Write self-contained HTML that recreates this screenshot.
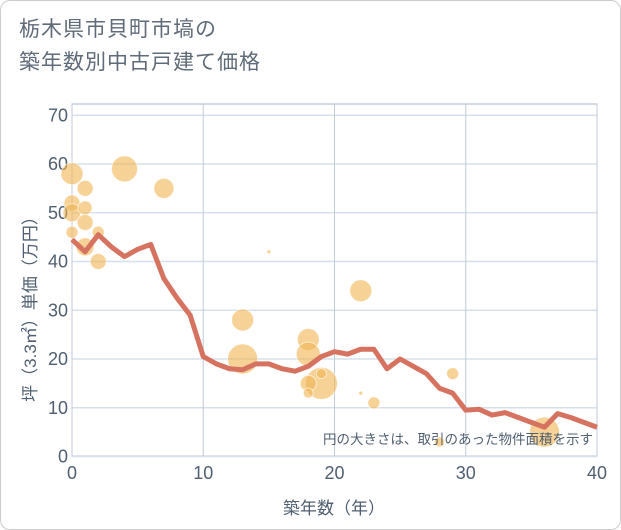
<!DOCTYPE html>
<html><head><meta charset="utf-8"><style>
body{margin:0;background:#fff}
#w{width:619px;height:528px;border:1px solid #ccc;border-radius:10px;position:relative;overflow:hidden;font-family:"Liberation Sans","Noto Sans CJK JP",sans-serif}
h1{position:absolute;left:18px;top:12px;margin:0;font-size:21px;font-weight:normal;color:#5f6b78;line-height:33px;letter-spacing:1px}
</style></head><body>
<div id="w">
<h1>栃木県市貝町市塙の<br>築年数別中古戸建て価格</h1>
<svg id="s" width="621" height="530" style="position:absolute;left:-1px;top:-1px"></svg>
</div>
<script>
const xTicks=[0,10,20,30,40];
const yTicks=[0,10,20,30,40,50,60,70];
const lineYears=[0,1,2,3,4,5,6,7,8,9,10,11,12,13,14,15,16,17,18,19,20,21,22,23,24,25,26,27,28,29,30,31,32,33,34,35,36,37,38,39,40];
const lineVals=[44.5,42,45.5,43,41,42.5,43.5,36.5,32.5,29,20.5,19,18,17.8,19,19,18,17.5,18.5,20.5,21.5,21,22,22,18,20,18.5,17,14,13,9.5,9.7,8.5,9,8,7,6,8.8,8,7,6];
const bubX=[0,1,4,7,0,0,1,1,0,1,2,2,15,13,13,18,18,19,18,19,18,22,22,23,29,28,36];
const bubY=[58,55,59,55,52,50,51,48,46,43,46,40,42,28,20,24,21,15,15,17,13,34,13,11,17,3,5];
const bubR=[11,8,13,10,8,9,7,8,6,9,6,8,2,11,15,11,12,16,8,5,5,11,2,6,6,5,15];
const L=72,R=597,T=104,B=456;
const X=v=>L+v*(R-L)/40, Y=v=>456.5-v*4.875;
const TC='#4f5f70';
const s=document.getElementById('s');const NS='http://www.w3.org/2000/svg';
function mk(t,a,p){const e=document.createElementNS(NS,t);for(const k in a)e.setAttribute(k,a[k]);(p||s).appendChild(e);return e;}
let e=mk('rect',{x:L,y:T,width:R-L,height:B-T,fill:'#fff',stroke:'#aab4c4'});

yTicks.forEach(v=>{const l=mk('line',{x1:L,x2:R,y1:Y(v),y2:Y(v),stroke:'#d5e0ec','stroke-width':1.5});

const t=mk('text',{x:L-4,y:Y(v)+6,'text-anchor':'end','font-size':18,fill:TC});t.textContent=v;
});
xTicks.forEach(v=>{const l=mk('line',{x1:X(v),x2:X(v),y1:T,y2:B,stroke:'#c0cad8'});

const t=mk('text',{x:X(v),y:479,'text-anchor':'middle','font-size':18,fill:TC});t.textContent=v;
});
bubX.forEach((x,i)=>{const c=mk('circle',{cx:X(x),cy:Y(bubY[i]),r:bubR[i],fill:'rgba(240,180,80,0.6)',stroke:'rgba(255,255,255,0.6)'});
});
const p=mk('polyline',{points:lineYears.map((x,i)=>X(x)+','+Y(lineVals[i])).join(' '),fill:'none',stroke:'#d67360','stroke-width':5,'stroke-linejoin':'round'});

let n=mk('text',{x:593,y:444,'text-anchor':'end','font-size':13.5,fill:TC});n.textContent='円の大きさは、取引のあった物件面積を示す';

let xt=mk('text',{x:334,y:514,'text-anchor':'middle','font-size':17,fill:TC});xt.textContent='築年数（年）';

let yt=mk('text',{x:0,y:0,'text-anchor':'middle','font-size':17,fill:TC,transform:'translate(36,305) rotate(-90)'});yt.textContent='坪（3.3㎡）単価（万円）';

</script>
</body></html>
